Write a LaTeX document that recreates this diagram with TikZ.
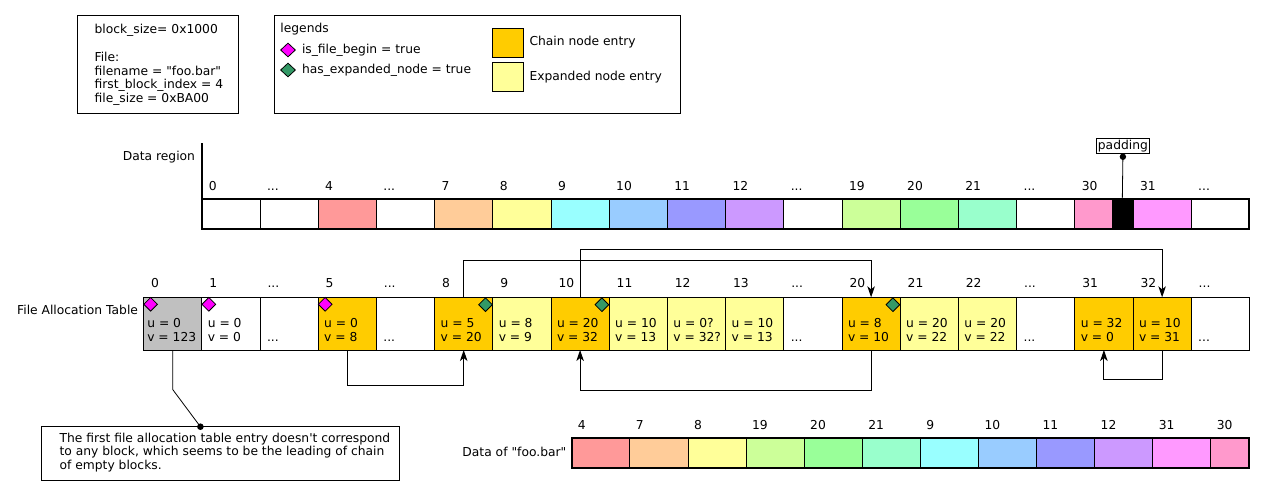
\documentclass[tikz,border=0pt]{standalone}
\usepackage{fontspec}
\setmainfont{DejaVu Sans}[Ligatures=TeXOff]
\usetikzlibrary{shapes.geometric,arrows.meta}
\definecolor{fgray}{HTML}{C0C0C0}
\definecolor{chain}{HTML}{FFCC00}
\definecolor{expd}{HTML}{FFFF99}
\definecolor{mag}{HTML}{FF00FF}
\definecolor{grn}{HTML}{339966}
\definecolor{c4}{HTML}{FF9999}
\definecolor{c7}{HTML}{FFCC99}
\definecolor{c8}{HTML}{FFFF99}
\definecolor{c9}{HTML}{99FFFF}
\definecolor{c10}{HTML}{99CCFF}
\definecolor{c11}{HTML}{9999FF}
\definecolor{c12}{HTML}{CC99FF}
\definecolor{c19}{HTML}{CCFF99}
\definecolor{c20}{HTML}{99FF99}
\definecolor{c21}{HTML}{99FFCC}
\definecolor{c30}{HTML}{FF99CC}
\definecolor{c31}{HTML}{FF99FF}
\newcommand\eldots{...}
\begin{document}
\begin{tikzpicture}[x=1pt,y=-1pt,font=\fontsize{12.3}{14}\selectfont,
  cell/.style={draw, line width=1pt, anchor=north west, minimum width=58.2pt, inner sep=0pt, outer sep=0pt},
  fatcell/.style={cell, minimum height=52.7pt},
  dcell/.style={cell, minimum height=30pt},
  txt/.style={anchor=base west, inner sep=0pt, outer sep=0pt},
  txte/.style={anchor=base east, inner sep=0pt, outer sep=0pt},
  arr/.style={line width=1pt, -{Stealth[length=11pt,width=7.5pt,inset=3pt]}},
  diam/.style={diamond, draw, line width=0.8pt, inner sep=0pt, minimum width=14pt, minimum height=14pt},
  box/.style={draw, line width=1pt, anchor=north west, inner sep=0pt, outer sep=0pt}]
\useasboundingbox (0,0) rectangle (1265,496);
\fill[white] (0,0) rectangle (1265,496);

% ---- info box
\node[box, minimum width=160.7pt, minimum height=98.4pt] (info) at (77.7,15.3) {};
\node[txt] (i1) at (94.6,33.7) {block\_size= 0x1000};
\node[txt] (i2) at (94.6,61.3) {File:};
\node[txt] (i3) at (94.6,75.1) {filename = "foo.bar"};
\node[txt] (i4) at (94.6,88.9) {first\_block\_index = 4};
\node[txt] (i5) at (94.6,102.7) {file\_size = 0xBA00};

% ---- legend box
\node[box, minimum width=406.4pt, minimum height=98.4pt] (legend) at (274,15.3) {};
\node[txt] (lg) at (280.4,32.3) {legends};
\node[diam, fill=mag, minimum width=15pt] (lgm) at (288,50) {};
\node[txt] (lgmt) at (302,53.3) {is\_file\_begin = true};
\node[diam, fill=grn, minimum width=15pt] (lgg) at (288,70) {};
\node[txt] (lggt) at (302,73.3) {has\_expanded\_node = true};
\node[box, fill=chain, minimum width=31.3pt, minimum height=29pt] (lgc) at (492.4,28.3) {};
\node[txt] (lgct) at (529.5,45.3) {Chain node entry};
\node[box, fill=expd, minimum width=31.3pt, minimum height=28.7pt] (lge) at (492.4,62.3) {};
\node[txt] (lget) at (529.5,80) {Expanded node entry};

% ---- data region
\node[txte] (drl) at (195,160) {Data region};
\foreach \c/\l [count=\k from 0] in {white/0, white/\eldots, c4/4, white/\eldots, c7/7, c8/8, c9/9, c10/10, c11/11, c12/12, white/\eldots, c19/19, c20/20, c21/21, white/\eldots, c30/30, c31/31, white/\eldots}{
  \node[dcell, fill=\c] (d\k) at ({201.8+58.2*\k},199.3) {};
  \node[txt] (dl\k) at ({201.8+58.2*\k+7},190) {\l};
}
\node[dcell, fill=black, minimum width=20.6pt] (padcell) at (1112,199.3) {};
\draw[line width=2pt] (d0.north west) rectangle (d17.south east);
\draw[line width=2pt] (d0.south west) -- ++(0,-86);
\node[draw, line width=0.8pt, inner sep=1pt, minimum width=53pt, minimum height=15.3pt] (pad) at (1122.9,145.7) {padding};
\coordinate (paddot) at ([yshift=-3pt]pad.south);
\draw[line width=0.8pt] (paddot) -- (padcell.north);
\fill (paddot) circle (3.2pt);

% ---- file allocation table
\node[txte] (fatl) at (138,314) {File Allocation Table};
\foreach \c/\l [count=\i from 0] in {fgray/0, white/1, white/\eldots, chain/5, white/\eldots, chain/8, expd/9, chain/10, expd/11, expd/12, expd/13, white/\eldots, chain/20, expd/21, expd/22, white/\eldots, chain/31, chain/32, white/\eldots}{
  \node[fatcell, fill=\c] (f\i) at ({143.6+58.2*\i},297.3) {};
  \node[txt] (fl\i) at ({143.6+58.2*\i+7.5},287.7) {\l};
}
\node[txt] (fu0) at (147.3,327.3) {u = 0};
\node[txt] (fv0) at (147.3,341.7) {v = 123};
\foreach \i/\u/\v in {1/0/0, 3/0/8, 5/5/20, 6/8/9, 7/20/32, 8/10/13, 9/0?/32?, 10/10/13, 12/8/10, 13/20/22, 14/20/22, 16/32/0, 17/10/31}{
  \node[txt] (fu\i) at ({143.6+58.2*\i+6},327.3) {u = \u};
  \node[txt] (fv\i) at ({143.6+58.2*\i+6},341.7) {v = \v};
}
\foreach \i in {2,4,11,15,18}{
  \node[txt] (fe\i) at ({143.6+58.2*\i+7},341.7) {\eldots};
}
\foreach \i in {0,1,3}{
  \node[diam, fill=mag] (m\i) at ([xshift=7pt,yshift=-7pt]f\i.north west) {};
}
\foreach \i in {5,7,12}{
  \node[diam, fill=grn] (g\i) at ([xshift=-7.3pt,yshift=-7.4pt]f\i.north east) {};
}

% ---- chain arrows
\draw[arr] (f3.south) -- ++(0,35.7) -| (f5.south);
\draw[arr] (f5.north) -- ++(0,-36.6) -| (f12.north);
\draw[arr] (f7.north) -- ++(0,-48) -| (f17.north);
\draw[arr] (f12.south) -- ++(0,40) -| (f7.south);
\draw[arr] (f17.south) -- ++(0,29.3) -| (f16.south);

% ---- note
\node[box, minimum width=358pt, minimum height=53.6pt] (note) at (41.2,426.7) {};
\node[txt] (n1) at (59.6,442) {The first file allocation table entry doesn\char"27 t correspond};
\node[txt] (n2) at (59.6,455.7) {to any block, which seems to be the leading of chain};
\node[txt] (n3) at (59.6,469.3) {of empty blocks.};
\coordinate (notept) at (200.4,426.7);
\draw[line width=0.8pt] (f0.south) -- ++(0,39.5) -- (notept);
\fill (notept) circle (3.3pt);

% ---- data of foo.bar
\node[txte] (fbl) at (566.3,456.7) {Data of "foo.bar"};
\foreach \c/\l [count=\k from 0] in {c4/4, c7/7, c8/8, c19/19, c20/20, c21/21, c9/9, c10/10, c11/11, c12/12, c31/31}{
  \node[dcell, fill=\c, minimum width=58.1pt] (b\k) at ({571.8+58.1*\k},438.3) {};
  \node[txt] (bl\k) at ({571.8+58.1*\k+6},429) {\l};
}
\node[dcell, fill=c30, minimum width=38.1pt] (b11) at (1210.9,438.3) {};
\node[txt] (bl11) at (1216.9,429) {30};
\draw[line width=2pt] (b0.north west) rectangle (b11.south east);
\end{tikzpicture}
\end{document}
